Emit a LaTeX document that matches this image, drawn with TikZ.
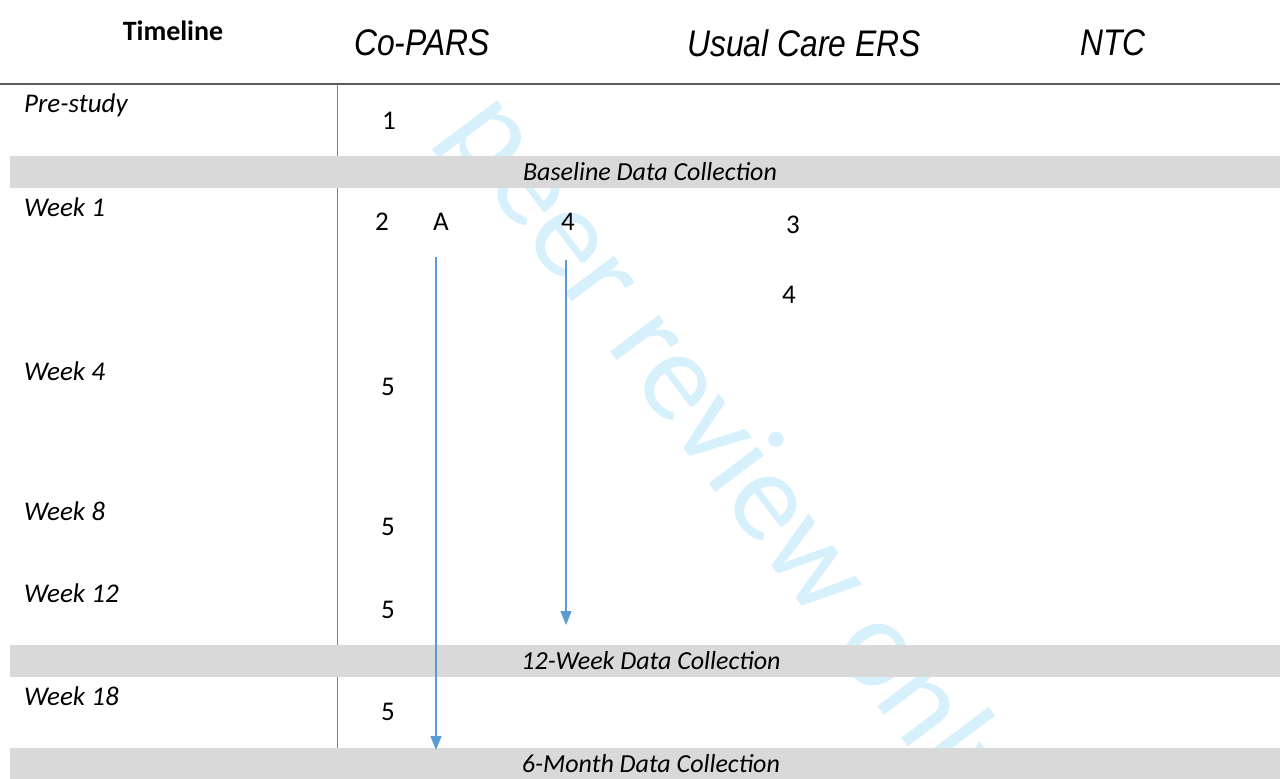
\documentclass[tikz,border=0pt]{standalone}
\usepackage{fontspec}
\setmainfont{Carlito}
\newfontfamily\arialf{Liberation Sans}
\usetikzlibrary{arrows.meta}
\definecolor{wm}{RGB}{214,240,252}
\definecolor{barg}{RGB}{217,217,217}
\definecolor{arrb}{RGB}{91,155,213}
\definecolor{rulec}{RGB}{90,90,90}
\definecolor{vlinec}{RGB}{128,128,128}
\tikzset{
  wmark/.style={text=wm, inner sep=0pt, anchor=base, rotate=-53, font=\fontsize{128}{130}\selectfont},
  hdrb/.style={inner sep=0pt, font=\fontsize{28}{30}\selectfont\bfseries},
  hdr/.style={inner sep=0pt, font=\arialf\fontsize{37}{40}\selectfont\itshape},
  rowlab/.style={inner sep=0pt, anchor=west, font=\fontsize{27}{30}\selectfont\itshape},
  num/.style={inner sep=0pt, font=\fontsize{27}{30}\selectfont},
  barlab/.style={inner sep=0pt, font=\fontsize{26}{30}\selectfont\itshape},
  bar/.style={fill=barg, draw=none},
  arr/.style={draw=arrb, line width=1.2pt, -{Triangle[length=14pt,width=11pt]}},
}
\begin{document}
\begin{tikzpicture}[x=1pt,y=-1pt]
\useasboundingbox (0,0) rectangle (1280,779);
% watermark (its first word is hidden in the reference)
\begin{scope}
  \clip (2032,-1088) -- (3236,510) -- (36,2910) -- (-1168,1312) -- cycle;
  \node[wmark] (wmk) at (645,398) {For peer review only};
\end{scope}
% rules
\draw[rulec, line width=1.5pt] (0,84) -- (1280,84);
\draw[vlinec, line width=1pt] (337,84) -- (337,748);
% bars
\fill[bar] (10,156) rectangle (1280,188);
\fill[bar] (10,645) rectangle (1280,677);
\fill[bar] (10,748) rectangle (1280,779);
\node[barlab] (b1) at (650,172) {Baseline Data Collection};
\node[barlab] (b2) at (651,661) {12-Week Data Collection};
\node[barlab] (b3) at (651,764) {6-Month Data Collection};
% headers
\node[hdrb] (tl) at (173,31) {Timeline};
\node[hdr] (cp) at (422,43) {\scalebox{0.86}[1]{Co-PARS}};
\node[hdr] (uc) at (804,43) {\scalebox{0.86}[1]{Usual Care ERS}};
\node[hdr] (ntc) at (1113,43) {\scalebox{0.86}[1]{NTC}};
% row labels
\node[rowlab] (r0) at (24,105) {Pre-study};
\node[rowlab] (r1) at (24,207) {Week 1};
\node[rowlab] (r4) at (24,371) {Week 4};
\node[rowlab] (r8) at (24,511) {Week 8};
\node[rowlab] (r12) at (24,593) {Week 12};
\node[rowlab] (r18) at (24,696) {Week 18};
% numbers
\node[num] (n1) at (389,121) {1};
\node[num] (n2) at (382,222) {2};
\node[num] (nA) at (441,222) {A};
\node[num] (n4a) at (568,222) {4};
\node[num] (n3) at (793,225) {3};
\node[num] (n4b) at (789,295) {4};
\node[num] (n5a) at (388,387) {5};
\node[num] (n5b) at (388,527) {5};
\node[num] (n5c) at (388,610) {5};
\node[num] (n5d) at (388,712) {5};
% arrows
\coordinate (aAs) at (436,257);
\coordinate (aAe) at (436,750);
\coordinate (a4s) at (566,260);
\coordinate (a4e) at (566,625);
\draw[arr] (aAs) -- (aAe);
\draw[arr] (a4s) -- (a4e);
\end{tikzpicture}
\end{document}
